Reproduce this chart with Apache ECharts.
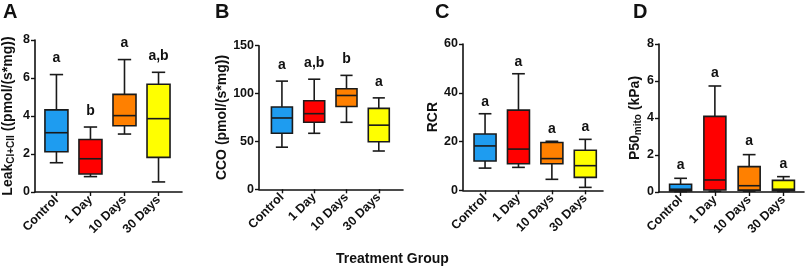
<!DOCTYPE html>
<html>
<head>
<meta charset="utf-8">
<script src="https://cdn.jsdelivr.net/npm/echarts@6/dist/echarts.min.js"></script>
<style>
  html, body { margin: 0; background: #fff; }
  #chart { width: 809px; height: 269px; }
</style>
</head>
<body>
<div id="chart"></div>
<script>
// treatment groups, same order in all panels
const groups = ['Control', '1 Day', '10 Days', '30 Days'];

// each box: [min, Q1, median, Q3, max]
const leakBoxes = [
  [1.54, 2.12, 3.12, 4.32, 6.18],
  [0.81, 0.95, 1.75, 2.76, 3.42],
  [3.05, 3.49, 4.02, 5.14, 6.97],
  [0.53, 1.82, 3.86, 5.67, 6.3]
];
const leakLetters = ['a', 'b', 'a', 'a,b'];

const ccoBoxes = [
  [44, 58.5, 74.5, 86, 113],
  [58.5, 70, 79, 92.5, 115],
  [70, 86.5, 98, 105, 119],
  [40, 49.7, 67, 84.5, 95.5]
];
const ccoLetters = ['a', 'a,b', 'b', 'a'];

const rcrBoxes = [
  [9.1, 12.0, 18.2, 23.1, 31.4],
  [9.4, 10.9, 16.9, 32.9, 47.8],
  [4.5, 10.9, 13.0, 19.6, 20.1],
  [1.2, 5.3, 10.1, 16.4, 20.9]
];
const rcrLetters = ['a', 'a', 'a', 'a'];

const p50Boxes = [
  [0.02, 0.06, 0.15, 0.42, 0.74],
  [0.04, 0.11, 0.65, 4.09, 5.73],
  [0.04, 0.1, 0.34, 1.37, 2.02],
  [0.03, 0.07, 0.15, 0.63, 0.83]
];
const p50Letters = ['a', 'a', 'a', 'a'];

const boxColors = ['#1e9cf0', '#ff0000', '#ff8000', '#ffff00'];
const FONT = '"Liberation Sans", Arial, sans-serif';
const INK = '#111';

const panels = [
  { tag: 'A', tagX: 3, boxes: leakBoxes, letters: leakLetters, yMax: 8, yStep: 2,
    name: '{t|Leak}{s|CI+CII}{t| ((pmol/(s*mg))}', nameGap: 19,
    grid: { left: 31, right: 627, top: 40, bottom: 77 }, xRange: [-0.63, 3.69],
    boxW: 23, letterGap: 9 },
  { tag: 'B', tagX: 215, boxes: ccoBoxes, letters: ccoLetters, yMax: 150, yStep: 50,
    name: '{t|CCO (pmol/(s*mg))}', nameGap: 27,
    grid: { left: 259, right: 406, top: 45.7, bottom: 79.7 }, xRange: [-0.71, 3.75],
    boxW: 21, letterGap: 9 },
  { tag: 'C', tagX: 435, boxes: rcrBoxes, letters: rcrLetters, yMax: 60, yStep: 20,
    name: '{t|RCR}', nameGap: 20,
    grid: { left: 463, right: 206, top: 44, bottom: 78.7 }, xRange: [-0.66, 3.53],
    boxW: 22, letterGap: 5 },
  { tag: 'D', tagX: 633, boxes: p50Boxes, letters: p50Letters, yMax: 8, yStep: 2,
    name: '{t|P50}{s|mito}{t| (kPa)}', nameGap: 16,
    grid: { left: 659, right: 5, top: 44, bottom: 77 }, xRange: [-0.63, 3.6],
    boxW: 22, letterGap: 6 }
];

function renderBox(panel) {
  return function (params, api) {
    const i = api.value(0);
    const pMin = api.coord([i, api.value(1)]);
    const pQ1 = api.coord([i, api.value(2)]);
    const pMed = api.coord([i, api.value(3)]);
    const pQ3 = api.coord([i, api.value(4)]);
    const pMax = api.coord([i, api.value(5)]);
    const x = pMin[0];
    const half = panel.boxW / 2;
    const cap = panel.boxW * 0.29;
    const ln = { stroke: '#1a1a1a', lineWidth: 1.6 };
    return {
      type: 'group',
      children: [
        { type: 'line', shape: { x1: x, y1: pMax[1], x2: x, y2: pMin[1] }, style: ln },
        { type: 'line', shape: { x1: x - cap, y1: pMax[1], x2: x + cap, y2: pMax[1] }, style: ln },
        { type: 'line', shape: { x1: x - cap, y1: pMin[1], x2: x + cap, y2: pMin[1] }, style: ln },
        { type: 'rect',
          shape: { x: x - half, y: pQ3[1], width: panel.boxW, height: pQ1[1] - pQ3[1] },
          style: { fill: boxColors[i], stroke: '#1a1a1a', lineWidth: 1.6 } },
        { type: 'line', shape: { x1: x - half, y1: pMed[1], x2: x + half, y2: pMed[1] }, style: ln },
        { type: 'text', x: x, y: pMax[1] - panel.letterGap,
          style: { text: panel.letters[i], align: 'center', verticalAlign: 'bottom',
                   fontSize: 14, fontWeight: 'bold', fontFamily: FONT, fill: INK } }
      ]
    };
  };
}

const richName = {
  t: { fontSize: 14, fontWeight: 'bold', fontFamily: FONT, color: INK, lineHeight: 16 },
  s: { fontSize: 10, fontWeight: 'bold', fontFamily: FONT, color: INK, lineHeight: 10, verticalAlign: 'bottom' }
};

const option = {
  animation: false,
  backgroundColor: '#fff',
  grid: panels.map(p => p.grid),
  xAxis: panels.map((p, k) => ({
    type: 'value', gridIndex: k, min: p.xRange[0], max: p.xRange[1],
    splitLine: { show: false },
    axisLine: { show: true, onZero: false, lineStyle: { color: INK, width: 1.6 } },
    axisTick: { show: true, length: 4, customValues: [0, 1, 2, 3], lineStyle: { color: INK, width: 1.4 } },
    axisLabel: {
      customValues: [0, 1, 2, 3], rotate: 45, margin: 6,
      formatter: v => groups[Math.round(v)] || '',
      fontSize: 12.5, fontWeight: 'bold', fontFamily: FONT, color: INK
    }
  })),
  yAxis: panels.map((p, k) => ({
    type: 'value', gridIndex: k, min: 0, max: p.yMax, interval: p.yStep,
    splitLine: { show: false },
    axisLine: { show: true, onZero: false, lineStyle: { color: INK, width: 1.6 } },
    axisTick: { show: true, length: 4, lineStyle: { color: INK, width: 1.4 } },
    axisLabel: { margin: 5, fontSize: 12.5, fontWeight: 'bold', fontFamily: FONT, color: INK },
    name: p.name, nameLocation: 'middle', nameRotate: 90, nameGap: p.nameGap,
    nameTextStyle: { rich: richName }
  })),
  series: panels.map((p, k) => ({
    type: 'custom', xAxisIndex: k, yAxisIndex: k,
    encode: { x: 0, y: [1, 2, 3, 4, 5] },
    data: p.boxes.map((b, i) => [i].concat(b)),
    renderItem: renderBox(p)
  })),
  graphic: panels.map(p => ({
    type: 'text', left: p.tagX, top: 2,
    style: { text: p.tag, fontSize: 20, fontWeight: 'bold', fontFamily: FONT, fill: INK }
  })).concat([{
    type: 'text', left: 336, top: 252,
    style: { text: 'Treatment Group', fontSize: 14, fontWeight: 'bold', fontFamily: FONT, fill: INK }
  }])
};

const chart = echarts.init(document.getElementById('chart'));
chart.setOption(option);
</script>
</body>
</html>
